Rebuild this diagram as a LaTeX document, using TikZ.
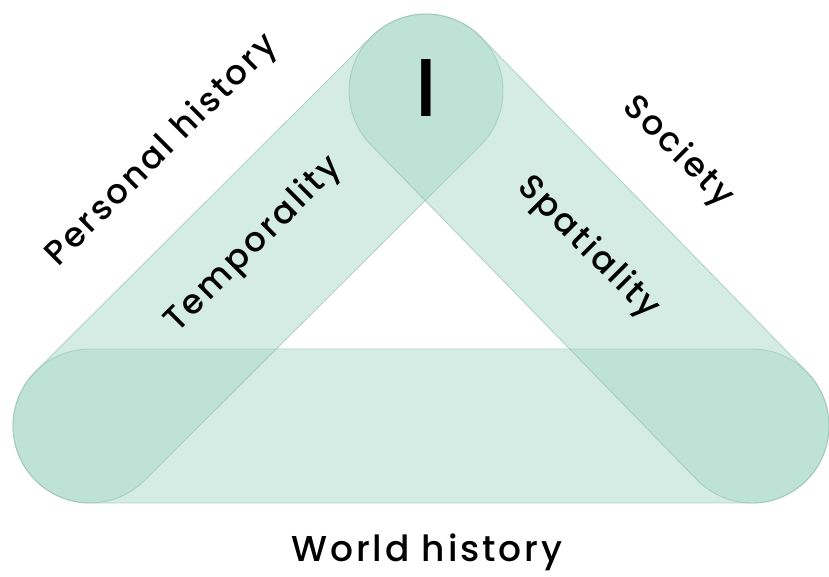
\documentclass[tikz,border=0pt]{standalone}
\usepackage{fontspec}
\setmainfont{Poppins}[UprightFont=* Medium, LetterSpace=8]
\usepackage{tikz}
\usetikzlibrary{positioning, calc}
\definecolor{BandGreen}{HTML}{A2D5C3}
\definecolor{BandEdge}{HTML}{9CC4B5}
\definecolor{LabelDark}{HTML}{000000}

\tikzset{
  band/.style={fill=BandGreen, fill opacity=0.45, draw=BandEdge, draw opacity=0.7, line width=0.9pt},
  label/.style={font=\fontsize{34}{34}\selectfont, text=LabelDark, inner sep=0pt}
}

\begin{document}
\begin{tikzpicture}[x=1pt, y=1pt]
  \useasboundingbox (0,0) rectangle (829,577);

  % Ends of the bands
  \coordinate (left) at (90,151);
  \coordinate (top) at (426,486);
  \coordinate (right) at (752,151);

  % Bottom band
  \draw[band] (90,74) -- (752,74) arc (-90:90:77) -- (90,228) arc (90:270:77) -- cycle;

  % Left band
  \begin{scope}[shift={(left)}, rotate=44.91]
    \draw[band] (0,-77) -- (474.5,-77) arc (-90:90:77) -- (0,77) arc (90:270:77) -- cycle;
  \end{scope}

  % Right band
  \begin{scope}[shift={(right)}, rotate=134.22]
    \draw[band] (0,-77) -- (467.4,-77) arc (-90:90:77) -- (0,77) arc (90:270:77) -- cycle;
  \end{scope}

  % Labels
  \node[label, font=\fontsize{82}{82}\selectfont] (self) at (426,489) {I};
  \node[label, font=\fontsize{36}{36}\selectfont, anchor=base] (world) at (427,15) {World history};
  \node[label, rotate=45] (personal) at (162,426) {Personal history};
  \node[label, rotate=45] (temporality) at (254,332) {Temporality};
  \node[label, rotate=-45] (society) at (678,425) {Society};
  \node[label, rotate=-45] (spatiality) at (588,329) {Spatiality};
\end{tikzpicture}
\end{document}
